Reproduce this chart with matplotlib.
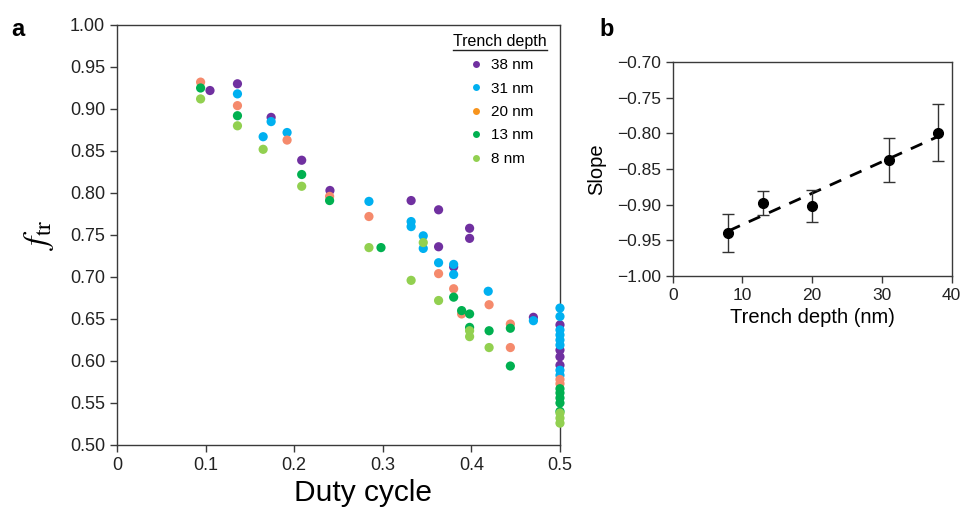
import numpy as np
import matplotlib.pyplot as plt
from matplotlib.lines import Line2D

plt.rcParams['font.family'] = ['Liberation Sans', 'DejaVu Sans']
plt.rcParams['mathtext.fontset'] = 'stix'

# ---- panel a: transmission fraction vs duty cycle, per trench depth ----
depth_labels = ['38 nm', '31 nm', '20 nm', '13 nm', '8 nm']

duty_38 = [0.105, 0.136, 0.174, 0.2085, 0.2404, 0.332, 0.363, 0.363, 0.380, 0.398, 0.398, 0.470,
           0.5, 0.5, 0.5, 0.5]
ftr_38 = [0.922, 0.930, 0.890, 0.839, 0.803, 0.791, 0.780, 0.736, 0.712, 0.758, 0.746, 0.652,
          0.643, 0.613, 0.605, 0.595]

duty_31 = [0.136, 0.165, 0.174, 0.192, 0.2844, 0.332, 0.332, 0.3457, 0.3457, 0.363, 0.380, 0.380,
           0.419, 0.470, 0.5, 0.5, 0.5, 0.5, 0.5, 0.5, 0.5, 0.5]
ftr_31 = [0.918, 0.867, 0.885, 0.872, 0.790, 0.766, 0.760, 0.749, 0.734, 0.717, 0.715, 0.703,
          0.683, 0.648, 0.663, 0.653, 0.637, 0.631, 0.625, 0.619, 0.589, 0.583]

duty_20 = [0.0944, 0.136, 0.192, 0.240, 0.2844, 0.363, 0.380, 0.389, 0.420, 0.444, 0.444, 0.5, 0.5]
ftr_20 = [0.932, 0.904, 0.863, 0.796, 0.772, 0.704, 0.686, 0.656, 0.667, 0.644, 0.616, 0.578, 0.573]

duty_13 = [0.0944, 0.136, 0.2085, 0.240, 0.298, 0.380, 0.389, 0.398, 0.398, 0.420, 0.444, 0.444,
           0.5, 0.5, 0.5, 0.5, 0.5]
ftr_13 = [0.925, 0.892, 0.822, 0.791, 0.735, 0.676, 0.660, 0.656, 0.640, 0.636, 0.639, 0.594,
          0.567, 0.562, 0.556, 0.550, 0.540]

duty_8 = [0.0944, 0.136, 0.165, 0.2085, 0.2844, 0.332, 0.3457, 0.363, 0.398, 0.398, 0.420,
          0.5, 0.5, 0.5]
ftr_8 = [0.912, 0.880, 0.852, 0.808, 0.735, 0.696, 0.741, 0.672, 0.636, 0.629, 0.616,
         0.538, 0.532, 0.526]

# ---- panel b: fitted slope vs trench depth ----
trench_depth = [8, 13, 20, 31, 38]
slope = [-0.940, -0.898, -0.902, -0.837, -0.799]
slope_err = [0.027, 0.017, 0.023, 0.031, 0.040]

scatter_colors = ['#7030A0', '#00B0F0', '#F58A6C', '#00B050', '#92D050']
legend_colors = ['#7030A0', '#00B0F0', '#F7941D', '#00B050', '#92D050']

fig = plt.figure(figsize=(9.61, 5.07), dpi=100)
ax_a = fig.add_axes([0.1217, 0.1223, 0.461, 0.8284])
ax_b = fig.add_axes([0.700, 0.4562, 0.2903, 0.4209])

spine_col = '#3a3a3a'
for ax in (ax_a, ax_b):
    for s in ax.spines.values():
        s.set_color(spine_col)
        s.set_linewidth(1.0)
    ax.tick_params(direction='out', length=5, width=1, color=spine_col,
                   labelsize=12.5, labelcolor='#222222')
ax_a.tick_params(labelsize=13)

series = [(duty_38, ftr_38), (duty_31, ftr_31), (duty_20, ftr_20), (duty_13, ftr_13), (duty_8, ftr_8)]
for (dx, fy), c in zip(series, scatter_colors):
    ax_a.scatter(dx, fy, s=44, color=c, edgecolors='none', clip_on=False, zorder=3)

ax_a.set_xlim(0, 0.5)
ax_a.set_ylim(0.5, 1.0)
ax_a.set_xticks([0, 0.1, 0.2, 0.3, 0.4, 0.5])
ax_a.set_xticklabels(['0', '0.1', '0.2', '0.3', '0.4', '0.5'])
ax_a.set_yticks(np.arange(0.5, 1.001, 0.05))
ax_a.set_yticklabels([f'{v:.2f}' for v in np.arange(0.5, 1.001, 0.05)])
ax_a.set_xlabel('Duty cycle', fontsize=21.5, va='center')
ax_a.xaxis.set_label_coords(0.555, -0.114)
ax_a.set_ylabel(r'$f_{\mathrm{tr}}$', fontsize=24, labelpad=10)

handles = [Line2D([], [], marker='o', ls='none', markersize=5, color=c, markeredgecolor='none')
           for c in legend_colors]
leg = ax_a.legend(handles, depth_labels, title='Trench depth', loc='upper right',
                  bbox_to_anchor=(0.995, 1.005), frameon=False, fontsize=11,
                  title_fontsize=11.5, handletextpad=0.4, labelspacing=0.62,
                  borderpad=0.2, handlelength=1.2)

# panel b
ax_b.errorbar(trench_depth, slope, yerr=slope_err, fmt='o', color='black', ms=7,
              ecolor='#333333', elinewidth=1, capsize=4, capthick=1, zorder=3)
fit = np.polyfit(trench_depth, slope, 1)
xf = np.array([min(trench_depth), max(trench_depth)])
ax_b.plot(xf, np.polyval(fit, xf), color='black', lw=2, ls=(0, (4.5, 3.5)), zorder=2)
ax_b.set_xlim(0, 40)
ax_b.set_ylim(-1.0, -0.7)
ax_b.set_xticks([0, 10, 20, 30, 40])
ax_b.set_yticks(np.arange(-1.0, -0.699, 0.05))
ax_b.set_yticklabels([f'{v:.2f}'.replace('-', '\u2212') for v in np.arange(-1.0, -0.699, 0.05)])
ax_b.set_xlabel('Trench depth (nm)', fontsize=14.5, labelpad=4)
ax_b.set_ylabel('Slope', fontsize=14.5, labelpad=8)

fig.text(0.012, 0.941, 'a', fontsize=17, fontweight='bold', va='center')
fig.text(0.624, 0.941, 'b', fontsize=17, fontweight='bold', va='center')

# underline the legend title
fig.canvas.draw()
bb = leg.get_title().get_window_extent()
inv = fig.transFigure.inverted()
(x0, y0), (x1, _) = inv.transform([(bb.x0, bb.y0 - 1), (bb.x1, bb.y0 - 1)])
fig.add_artist(Line2D([x0, x1], [y0, y0], color='#222222', lw=1, transform=fig.transFigure))

fig.savefig('out.png', dpi=100)
